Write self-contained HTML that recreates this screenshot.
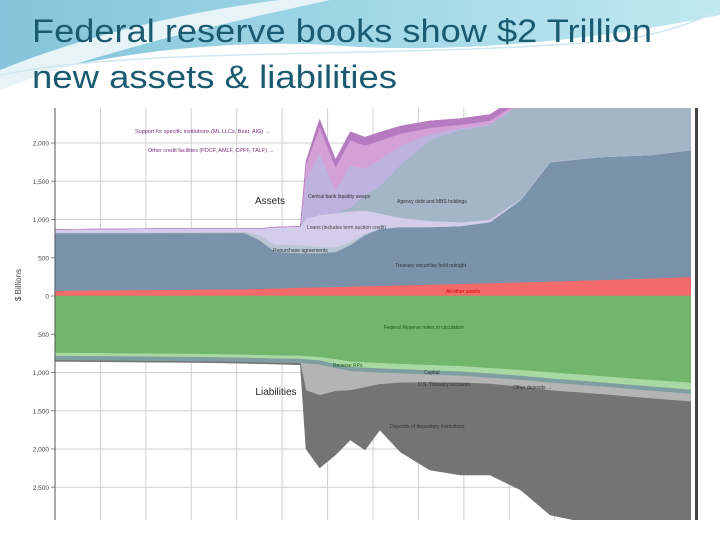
<!DOCTYPE html>
<html><head><meta charset="utf-8"><style>
html,body{margin:0;padding:0;width:720px;height:540px;overflow:hidden;background:#fff;font-family:"Liberation Sans",sans-serif}
svg{position:absolute;left:0;top:0}
.t{font-family:"Liberation Sans",sans-serif}
</style></head><body>
<svg width="720" height="540" viewBox="0 0 720 540">
<defs>
<linearGradient id="bg1" x1="0" y1="0" x2="1" y2="0"><stop offset="0" stop-color="#6fb9d3"/><stop offset="0.5" stop-color="#8fd0e2"/><stop offset="1" stop-color="#b4e4ee"/></linearGradient>
<clipPath id="plotclip"><rect x="55" y="108" width="636" height="412"/></clipPath>
</defs>
<path d="M0 0 H720 V15 C600 40 450 55 330 45 C230 40 120 50 0 82 Z" fill="url(#bg1)" opacity="0.85"/>
<path d="M0 70 C100 30 200 10 280 0 H330 C240 20 120 45 0 90 Z" fill="#e6f4f8"/>
<path d="M0 75 C150 45 400 60 620 40 C660 35 700 20 720 10" stroke="#cfe7ee" stroke-width="1.5" fill="none"/>
<text class="t" x="32" y="42" font-size="32" fill="#1b5b72" textLength="620" lengthAdjust="spacingAndGlyphs">Federal reserve books show $2 Trillion</text>
<text class="t" x="32" y="88" font-size="32" fill="#1b5b72" textLength="365" lengthAdjust="spacingAndGlyphs">new assets &amp; liabilities</text>
<rect x="20" y="104" width="678" height="418" fill="#fff"/>
<g id="grid"></g>
<g id="areas" clip-path="url(#plotclip)"></g>
<g id="axis"></g>
<g id="labels"></g>
<rect x="695" y="108" width="3" height="412" fill="#444"/>
</svg>
<script>
// sample dates (months since Jan 2007)
const months = [0,4,8.4,12.8,16.7,18,19.4,21.6,22.1,23.3,24.7,26,27.3,28.6,30.4,33,35.7,38.3,41,43.6,48,52.4,56];
// asset layers, $ billions (bottom to top)
const otherAssets = [70,75,80,85,90,95,100,110,112,115,120,125,130,135,140,150,160,170,180,190,210,230,250];
const treasuries = [754,749,744,739,734,637,475,452,450,447,455,542,667,741,762,752,755,797,1075,1562,1607,1613,1658];
const repos = [5,5,5,10,15,60,100,100,100,80,60,40,20,5,0,0,0,0,0,0,0,0,0];
const loans = [41,46,51,46,41,88,225,248,350,420,450,400,300,200,120,80,50,30,10,5,0,0,0];
const agencyMbs = [0,0,0,0,0,0,0,0,0,0,0,50,200,350,690,1057,1205,1238,1250,1000,1000,1000,1000];
const swaps = [0,0,0,0,0,0,0,0,500,800,300,550,350,350,250,80,20,10,0,0,0,0,0];
const otherCredit = [0,0,0,0,0,0,0,0,200,350,300,330,300,250,160,80,50,47,40,60,40,30,30];
const specific = [0,0,0,0,0,0,0,0,50,100,100,110,110,110,100,90,80,80,80,100,90,80,70];
// liability layers, $ billions (top to bottom)
const notes = [745,750,755,760,770,775,780,784,790,800,830,860,870,880,890,905,920,945,970,1000,1050,1100,1137];
const reverseRepo = [40,40,40,40,40,40,40,40,40,45,60,70,70,70,70,70,70,70,75,80,80,85,90];
const capital = [55,55,55,55,55,55,55,55,55,55,55,55,55,55,55,55,55,55,55,55,55,55,55];
const treasuryAcct = [0,0,0,0,0,0,0,0,350,400,300,250,200,150,120,100,90,80,90,100,100,100,100];
const deposits = [15,15,15,15,15,15,15,20,765,948,833,647,818,597,904,1145,1205,1190,1346,1628,1715,1660,1618];
const yTicksPos = [2000,1500,1000,500,0];
const yTickLabelsPos = ["2,000","1,500","1,000","500","0"];
const yTicksNeg = [500,1000,1500,2000,2500];
const yTickLabelsNeg = ["500","1,000","1,500","2,000","2,500"];
const gridMonths = [4,8,12,16,20,24,28,32,36,40,44,48,52];

const NS="http://www.w3.org/2000/svg";
const X0=55,X1=691,Y0=296,K=0.0765,MMAX=56;
const xS=m=>X0+m/MMAX*(X1-X0);
const yS=v=>Y0-v*K;
function mk(tag,attrs,parent){const e=document.createElementNS(NS,tag);for(const k in attrs)e.setAttribute(k,attrs[k]);parent.appendChild(e);return e;}
const grid=document.getElementById('grid'),areas=document.getElementById('areas'),axis=document.getElementById('axis');

gridMonths.forEach(m=>{const l=mk('line',{x1:xS(m),x2:xS(m),y1:108,y2:520,stroke:'#cfcfcf','stroke-width':1},grid);

});
yTicksPos.forEach((v,i)=>{const y=yS(v);
const l=mk('line',{x1:X0,x2:X1,y1:y,y2:y,stroke:'#cfcfcf','stroke-width':1},grid);


mk('line',{x1:X0-4,x2:X0,y1:y,y2:y,stroke:'#888'},axis);
const t=mk('text',{x:X0-6,y:y+2.5,'font-size':6.5,'text-anchor':'end',fill:'#444',class:'t'},axis);t.textContent=yTickLabelsPos[i];

});
yTicksNeg.forEach((v,i)=>{const y=yS(-v);
const l=mk('line',{x1:X0,x2:X1,y1:y,y2:y,stroke:'#cfcfcf','stroke-width':1},grid);


mk('line',{x1:X0-4,x2:X0,y1:y,y2:y,stroke:'#888'},axis);
const t=mk('text',{x:X0-6,y:y+2.5,'font-size':6.5,'text-anchor':'end',fill:'#444',class:'t'},axis);t.textContent=yTickLabelsNeg[i];

});
mk('line',{x1:X0,x2:X0,y1:108,y2:520,stroke:'#555','stroke-width':1},axis);
const yt=mk('text',{x:0,y:0,'font-size':8,'text-anchor':'middle',fill:'#444',class:'t',transform:'translate(21,285) rotate(-90)'},axis);
yt.textContent='$ Billions';



function stack(layers,colors,names,sign){
  let base=months.map(()=>0);
  layers.forEach((arr,li)=>{
    const top=base.map((b,i)=>b+arr[i]);
    let d='M'+months.map((m,i)=>xS(m)+','+yS(sign*top[i])).join('L');
    for(let i=months.length-1;i>=0;i--)d+='L'+xS(months[i])+','+yS(sign*base[i]);
    const p=mk('path',{d:d+'Z',fill:colors[li],stroke:colors[li],'stroke-width':0.5},areas);
    
    
    base=top;
  });
}
stack([otherAssets,treasuries,repos,loans,agencyMbs,swaps,otherCredit,specific],
 ['#f26a6a','#7a93ab','#b8c6d3','#d3cceb','#a4b5c7','#bdb3de','#d4a0d6','#b57abf'],
 ['area-other-assets','area-treasury-securities','area-repurchase-agreements','area-loans','area-agency-mbs','area-liquidity-swaps','area-other-credit','area-specific-institutions'],1);
stack([notes,reverseRepo,capital,treasuryAcct,deposits],
 ['#72b56c','#a9d9a2','#7e9ea2','#b4b4b4','#747474'],
 ['area-federal-reserve-notes','area-reverse-repo','area-capital','area-treasury-accounts','area-deposits'],-1);

const labels=[
 [135,133,'Support for specific institutions (ML LLCs, Bear, AIG) \u2192',5.5,'#7a2d7e','start'],
 [148,152,'Other credit facilities (PDCF, AMLF, CPFF, TALF) \u2192',5.5,'#7a2d7e','start'],
 [270,204,'Assets',10,'#222','middle'],
 [308,198,'Central bank liquidity swaps',5,'#333','start'],
 [397,203,'Agency debt and MBS holdings',5,'#333','start'],
 [307,229,'Loans (includes term auction credit)',5,'#444','start'],
 [273,252,'Repurchase agreements',5,'#333','start'],
 [395,267,'Treasury securities held outright',5,'#333','start'],
 [446,293,'All other assets',5,'#c00','start'],
 [384,329,'Federal Reserve notes in circulation',5,'#1a5a1a','start'],
 [333,367,'Reverse RPs',5,'#1a5a1a','start'],
 [276,395,'Liabilities',10,'#222','middle'],
 [424,374,'Capital',5,'#333','start'],
 [418,386,'U.S. Treasury accounts',5,'#333','start'],
 [513,389,'Other deposits \u2192',5,'#333','start'],
 [390,428,'Deposits of depository institutions',5,'#333','start']
];
const lg=document.getElementById('labels');
labels.forEach(a=>{const t=mk('text',{x:a[0],y:a[1],'font-size':a[3],fill:a[4],'text-anchor':a[5],class:'t'},lg);t.textContent=a[2];

});
</script>
</body></html>
